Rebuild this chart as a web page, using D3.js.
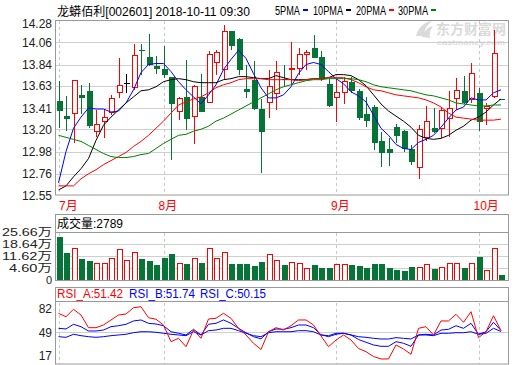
<!DOCTYPE html>
<html><head><meta charset="utf-8">
<script src="https://cdn.jsdelivr.net/npm/d3@7"></script>
<style>
html,body{margin:0;padding:0;background:#fff;}
svg{display:block;}
text{font-family:"Liberation Sans","Noto Sans CJK SC",sans-serif;}
</style></head>
<body>
<svg id="c" width="520" height="365"></svg>
<script>
// ---------------- data ----------------
const title = "龙蟒佰利[002601] 2018-10-11 09:30";
const maNames = ["5PMA","10PMA","20PMA","30PMA"];
const maColors = ["#0000ff","#000000","#ff0000","#008000"];
const priceTicks = [12.55,12.76,12.98,13.20,13.41,13.63,13.84,14.06,14.28];
const volTicks = [4.60,11.62,18.64,25.66];
const volTickLabels = ["4.60万","11.62万","18.64万","25.66万"];
const rsiTicks = [17,49,82];
const months = [{i:0,label:"7月"},{i:14,label:"8月"},{i:37,label:"9月"},{i:56,label:"10月"}];

const opens  = [13.48,13.33,13.36,13.54,13.58,13.18,13.28,13.37,13.56,13.66,13.61,13.98,13.91,13.83,13.80,13.72,13.38,13.52,13.33,13.52,13.46,13.86,13.79,14.17,14.09,13.60,13.69,13.40,13.46,13.55,13.70,13.79,13.80,13.94,14.00,13.91,13.65,13.51,13.56,13.67,13.58,13.35,13.42,13.08,13.00,13.22,13.18,13.00,12.82,13.12,13.21,13.21,13.31,13.50,13.58,13.49,13.56,13.41,13.52,13.50];
const highs  = [13.68,13.53,13.68,13.64,13.66,13.39,13.40,13.54,13.90,13.75,14.04,14.04,14.14,13.92,14.02,13.72,13.52,13.88,13.64,13.75,13.97,13.98,14.23,14.17,14.10,13.84,13.87,13.50,13.79,13.87,13.84,14.06,14.00,13.98,14.13,13.97,13.70,13.70,13.72,13.72,13.60,13.52,13.44,13.17,13.11,13.25,13.19,13.04,13.24,13.43,13.41,13.42,13.58,13.71,13.73,13.85,13.61,13.46,14.18,13.50];
const lows   = [13.21,13.18,13.06,13.35,13.21,13.12,13.11,13.34,13.51,13.56,13.59,13.74,13.83,13.75,13.71,12.90,13.29,13.19,13.05,13.37,13.46,13.74,13.70,13.98,13.74,13.51,13.39,12.77,13.31,13.39,13.62,13.65,13.74,13.79,13.90,13.68,13.42,13.27,13.45,13.56,13.29,13.22,12.99,12.83,12.84,13.06,12.98,12.85,12.71,13.08,13.16,13.11,13.12,13.39,13.45,13.46,13.18,13.24,13.51,13.49];
const closes = [13.38,13.30,13.68,13.51,13.23,13.25,13.32,13.50,13.63,13.66,13.93,13.97,13.84,13.80,13.74,13.45,13.50,13.30,13.62,13.37,13.94,13.96,14.17,14.02,13.79,13.57,13.40,13.17,13.62,13.76,13.69,13.80,13.94,13.96,13.90,13.70,13.43,13.56,13.67,13.58,13.31,13.28,13.06,12.97,12.97,13.13,13.00,12.88,13.20,13.28,13.17,13.39,13.41,13.58,13.46,13.75,13.27,13.42,13.95,13.49];
// volume in 万
const volumes = [22.79,13.61,15.90,10.34,9.02,7.70,7.70,10.16,15.33,9.02,14.01,10.34,9.02,6.72,10.91,13.03,7.70,7.29,10.16,8.04,15.90,10.16,13.61,7.29,7.29,7.29,5.75,8.61,12.46,9.02,6.72,8.27,7.70,4.83,6.72,5.00,5.00,6.72,7.12,6.72,6.15,5.00,7.29,7.29,5.00,3.85,3.28,5.57,5.40,7.12,4.43,5.40,7.70,7.70,5.00,7.70,11.31,3.68,16.31,0.98];

const ma5  = [12.67,12.98,13.21,13.32,13.41,13.40,13.40,13.37,13.38,13.46,13.59,13.76,13.84,13.85,13.85,13.77,13.67,13.59,13.52,13.45,13.54,13.64,13.79,13.89,13.98,13.90,13.75,13.61,13.51,13.51,13.54,13.62,13.75,13.84,13.86,13.84,13.77,13.70,13.65,13.57,13.53,13.47,13.34,13.21,13.14,13.05,13.01,13.00,13.07,13.10,13.14,13.22,13.31,13.39,13.42,13.51,13.49,13.49,13.56,13.59];
const ma10 = [12.60,12.64,12.73,12.81,12.91,13.09,13.24,13.32,13.39,13.46,13.52,13.58,13.59,13.62,13.67,13.69,13.70,13.69,13.67,13.66,13.66,13.66,13.69,13.70,13.72,13.72,13.71,13.70,13.70,13.73,13.71,13.69,13.69,13.69,13.70,13.70,13.71,13.74,13.74,13.73,13.69,13.63,13.54,13.45,13.38,13.33,13.28,13.22,13.14,13.11,13.10,13.11,13.14,13.19,13.23,13.29,13.32,13.37,13.44,13.50];
const ma20 = [12.64,12.64,12.64,12.71,12.76,12.80,12.85,12.89,12.93,12.97,13.03,13.08,13.14,13.21,13.28,13.36,13.44,13.47,13.50,13.52,13.56,13.61,13.64,13.66,13.69,13.70,13.70,13.70,13.69,13.69,13.69,13.69,13.68,13.69,13.70,13.70,13.71,13.71,13.71,13.69,13.66,13.62,13.59,13.58,13.56,13.54,13.53,13.52,13.51,13.49,13.46,13.42,13.36,13.32,13.31,13.30,13.29,13.29,13.29,13.30];
const ma30 = [13.14,13.12,13.10,13.08,13.04,13.00,12.96,12.93,12.92,12.92,12.93,12.95,12.96,13.01,13.06,13.10,13.14,13.15,13.18,13.20,13.23,13.28,13.31,13.35,13.39,13.43,13.47,13.51,13.55,13.59,13.62,13.64,13.66,13.68,13.69,13.69,13.70,13.70,13.70,13.70,13.69,13.67,13.64,13.62,13.61,13.60,13.59,13.58,13.56,13.54,13.53,13.51,13.49,13.46,13.45,13.44,13.43,13.43,13.44,13.44];

const rsiA = [75.9,71.1,81.6,73.5,55.6,55.6,59.4,66.5,73.5,74.9,83.8,85.2,69.7,67.5,59.4,35.8,40.6,28.8,52.3,40.6,67.9,68.9,75.9,68.9,54.7,45.3,33.6,24.8,49.9,55.6,52.3,58.4,66.5,66.5,59.4,43.9,28.8,38.2,45.3,38.2,26.2,21.7,14.9,11.4,11.4,31.2,25.5,18.0,54.7,57.0,45.3,65.1,65.1,74.5,63.2,78.2,41.5,49.9,72.5,51.4];
const rsiB = [54.7,53.8,60.4,57.0,50.9,50.9,52.3,57.0,58.4,60.4,65.1,66.5,61.8,60.8,58.4,49.9,47.7,45.3,53.3,45.3,60.4,61.8,66.5,61.8,54.7,48.5,42.9,39.9,49.9,53.8,53.3,55.6,59.4,59.4,55.6,45.7,42.9,46.3,47.7,45.3,38.9,35.0,31.2,29.3,29.3,35.8,33.6,29.3,45.3,46.3,45.3,52.3,53.3,58.4,54.7,61.8,46.3,49.9,63.2,51.7];
const rsiC = [42.9,42.0,46.3,44.3,42.9,42.0,42.9,44.3,45.3,46.3,48.5,49.9,49.9,49.1,47.7,46.3,45.3,44.3,49.9,45.3,51.4,52.3,54.7,54.7,51.4,47.7,44.3,42.9,48.5,49.9,49.9,49.9,51.4,51.4,49.9,45.3,44.3,47.7,47.7,45.3,42.9,42.0,40.6,39.6,39.6,41.5,40.6,39.6,45.3,45.3,44.3,47.7,47.7,48.5,48.5,49.9,46.3,47.7,54.7,50.2];
const rsiLabels = ["RSI_A:51.42","RSI_B:51.74","RSI_C:50.15"];
const rsiColors = ["#ff0000","#0000ff","#0000ff"];
const volTitle = "成交量:2789";

// ---------------- drawing ----------------
const svg = d3.select("#c");
const L = 55.5, R = 508.5;
const UP = "#ff0000", DOWN = "#067436";
const idx = d3.range(closes.length);
const x = d3.scaleBand().domain(idx).range([54.75, 504.75]);
const cx = i => x(i) + x.bandwidth()/2;
const y = d3.scaleLinear().domain([12.55,14.28]).range([195,20]);
const yv = d3.scaleLinear().domain([-2.06,25.66]).range([280,232]);
const yr = d3.scaleLinear().domain([4.3,93.3]).range([364,301]);

// title + legend
svg.append("text").attr("x",57).attr("y",16).attr("font-size",12).attr("fill","#000")
  .attr("textLength",193).attr("lengthAdjust","spacingAndGlyphs").text(title);
const legX = [275,313,356,398], legW=[25,30,30,30];
maNames.forEach((n,k)=>{
  svg.append("text").attr("x",legX[k]).attr("y",15).attr("font-size",12).attr("fill","#000")
    .attr("textLength",legW[k]).attr("lengthAdjust","spacingAndGlyphs").text(n);
  svg.append("rect").attr("x",legX[k]+legW[k]+3).attr("y",9).attr("width",5).attr("height",2).attr("fill",maColors[k]);
});

// watermark
const wm = svg.append("g").attr("fill","#dadada");
wm.append("path").attr("d","M416,36 C418,28 424,22 432,21 C427,25 424,30 424,36 Z M422,37 C424,31 428,27 433,26 C430,30 429,34 430,38 Z");
wm.append("text").attr("x",436).attr("y",34).attr("font-size",14).attr("font-weight","bold")
  .attr("textLength",70).attr("lengthAdjust","spacingAndGlyphs").text("东方财富网");
wm.append("text").attr("x",437).attr("y",45).attr("font-size",7).attr("font-weight","bold")
  .attr("textLength",68).attr("lengthAdjust","spacingAndGlyphs").text("eastmoney.com");

// ---------- main panel ----------
const gm = svg.append("g");
gm.selectAll("line.grid").data(priceTicks.slice(1,-1)).join("line")
  .attr("x1",L).attr("x2",R).attr("y1",d=>Math.round(y(d))+0.5).attr("y2",d=>Math.round(y(d))+0.5)
  .attr("stroke","#cfcfcf");
months.forEach(m=>{
  gm.append("line").attr("x1",Math.round(cx(m.i))+0.5).attr("x2",Math.round(cx(m.i))+0.5)
    .attr("y1",21).attr("y2",195).attr("stroke","#c8c8c8").attr("stroke-dasharray","3,3");
});
svg.selectAll("text.py").data(priceTicks).join("text")
  .attr("x",52).attr("y",(d,k)=> (k===priceTicks.length-1 ? y(d)+3.5 : y(d)) + 4.5)
  .attr("text-anchor","end").attr("font-size",12).attr("fill","#222").text(d=>d.toFixed(2));

// candles
const cg = gm.append("g").attr("shape-rendering","crispEdges");
idx.forEach(i=>{
  const o=opens[i], c=closes[i];
  const col = c>o ? UP : (c<o ? DOWN : "#000");
  const xc = Math.round(cx(i))+0.5;
  const top = y(Math.max(o,c)), bot = y(Math.min(o,c));
  if (c>o){
    cg.append("line").attr("x1",xc).attr("x2",xc).attr("y1",y(highs[i])).attr("y2",top).attr("stroke",col);
    cg.append("line").attr("x1",xc).attr("x2",xc).attr("y1",bot).attr("y2",y(lows[i])).attr("stroke",col);
    cg.append("rect").attr("x",xc-2.5).attr("y",top).attr("width",5).attr("height",Math.max(bot-top,1))
      .attr("fill","#fff").attr("stroke",col);
  } else {
    cg.append("line").attr("x1",xc).attr("x2",xc).attr("y1",y(highs[i])).attr("y2",y(lows[i])).attr("stroke",col);
    cg.append("rect").attr("x",xc-3).attr("y",top).attr("width",6).attr("height",Math.max(bot-top,1)).attr("fill",col);
  }
});

// moving averages
const line = d3.line().x((d,i)=>cx(i)).y(d=>y(d));
[ma5,ma10,ma20,ma30].forEach((s,k)=>{
  gm.append("path").attr("d",line(s)).attr("fill","none").attr("stroke",maColors[k]).attr("stroke-width",1);
});
gm.append("rect").attr("x",L).attr("y",20.5).attr("width",R-L).attr("height",174.5)
  .attr("fill","none").attr("stroke","#999");

// month labels
months.forEach(m=>{
  svg.append("text").attr("x",Math.max(cx(m.i)-5,59)).attr("y",210).attr("font-size",12)
    .attr("fill","#ff0000").text(m.label);
});

// ---------- volume panel ----------
const gv = svg.append("g");
gv.selectAll("line.vg").data(volTicks).join("line")
  .attr("x1",L).attr("x2",R).attr("y1",d=>Math.round(yv(d))+0.5).attr("y2",d=>Math.round(yv(d))+0.5)
  .attr("stroke",(d,k)=>k===volTicks.length-1?"#999":"#cfcfcf");
months.forEach(m=>{
  gv.append("line").attr("x1",Math.round(cx(m.i))+0.5).attr("x2",Math.round(cx(m.i))+0.5)
    .attr("y1",233).attr("y2",280).attr("stroke","#c8c8c8").attr("stroke-dasharray","3,3");
});
const vb = gv.append("g").attr("shape-rendering","crispEdges");
idx.forEach(i=>{
  const up = closes[i]>=opens[i];
  const xc = Math.round(cx(i))+0.5;
  const t = yv(volumes[i]), b = yv.range()[0];
  if (up) vb.append("rect").attr("x",xc-2.5).attr("y",t).attr("width",5).attr("height",b-t).attr("fill","#fff").attr("stroke",UP);
  else vb.append("rect").attr("x",xc-3).attr("y",t).attr("width",6).attr("height",b-t+0.5).attr("fill",DOWN);
});
gv.append("rect").attr("x",L).attr("y",214.5).attr("width",R-L).attr("height",66)
  .attr("fill","none").attr("stroke","#999");
svg.append("text").attr("x",57).attr("y",228).attr("font-size",12).attr("fill","#000")
  .attr("textLength",66).attr("lengthAdjust","spacingAndGlyphs").text(volTitle);
svg.selectAll("text.vy").data(volTicks).join("text")
  .attr("x",52).attr("y",d=>yv(d)+4).attr("text-anchor","end").attr("font-size",11)
  .attr("textLength",(d,k)=>volTickLabels[k].length>5?50:43).attr("lengthAdjust","spacingAndGlyphs")
  .attr("fill","#222").text((d,k)=>volTickLabels[k]);
svg.append("text").attr("x",52).attr("y",yv.range()[0]+4).attr("text-anchor","end")
  .attr("font-size",11).attr("fill","#222").text("0");

// ---------- RSI panel ----------
const gr = svg.append("g");
gr.append("line").attr("x1",L).attr("x2",R).attr("y1",Math.round(yr(49))+0.5).attr("y2",Math.round(yr(49))+0.5).attr("stroke","#cfcfcf");
gr.append("line").attr("x1",L).attr("x2",R).attr("y1",301.5).attr("y2",301.5).attr("stroke","#999");
months.forEach(m=>{
  gr.append("line").attr("x1",Math.round(cx(m.i))+0.5).attr("x2",Math.round(cx(m.i))+0.5)
    .attr("y1",303).attr("y2",364).attr("stroke","#c8c8c8").attr("stroke-dasharray","3,3");
});
const rline = d3.line().x((d,i)=>cx(i)).y(d=>yr(d));
[rsiC,rsiB,rsiA].forEach((s,k)=>{
  gr.append("path").attr("d",rline(s)).attr("fill","none").attr("stroke",[rsiColors[2],rsiColors[1],rsiColors[0]][k]).attr("stroke-width",1);
});
gr.append("rect").attr("x",L).attr("y",287.5).attr("width",R-L).attr("height",76.5)
  .attr("fill","none").attr("stroke","#999");
const rlx=[57,129,200];
rsiLabels.forEach((t,k)=>{
  svg.append("text").attr("x",rlx[k]).attr("y",298).attr("font-size",12).attr("fill",rsiColors[k])
    .attr("textLength",66).attr("lengthAdjust","spacingAndGlyphs").text(t);
});
svg.selectAll("text.ry").data(rsiTicks).join("text")
  .attr("x",52).attr("y",d=>yr(d)+4.5).attr("text-anchor","end").attr("font-size",12)
  .attr("fill","#222").text(d=>d);
</script>
</body></html>
